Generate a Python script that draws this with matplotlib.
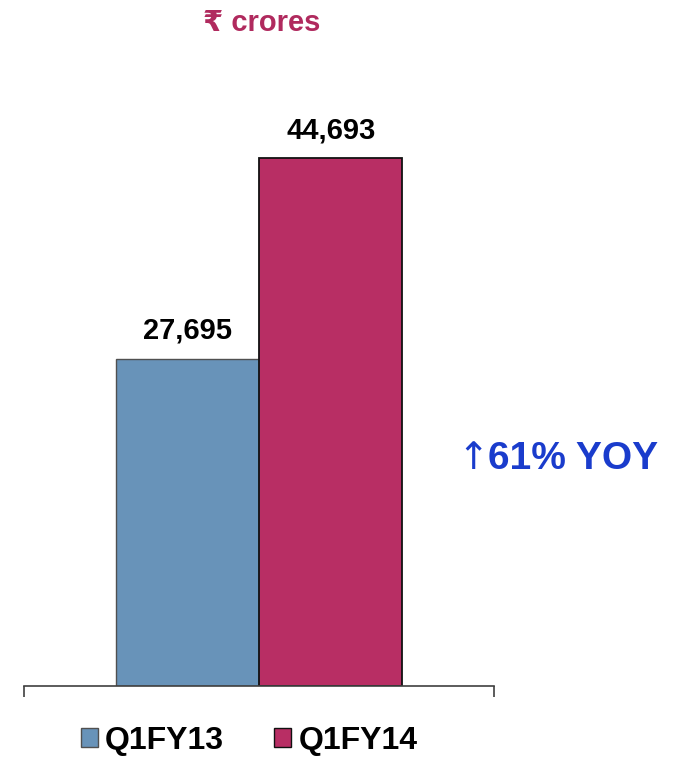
import matplotlib.pyplot as plt
from matplotlib.patches import Patch

# data
series = ["Q1FY13", "Q1FY14"]
values = [27695, 44693]
value_labels = ["27,695", "44,693"]
colors = ["#6893B9", "#B82E64"]
edges = ["#505050", "#111111"]

plt.rcParams["font.family"] = ["Liberation Sans", "DejaVu Sans"]

fig = plt.figure(figsize=(6.75, 7.57), dpi=100)
ax = fig.add_axes([24 / 675, 71 / 757, 470 / 675, 590.7 / 757])

width = 0.3053
offsets = [-width / 2, width / 2]
for i in range(len(series)):
    ax.bar(offsets[i], values[i], width=width, color=colors[i],
           edgecolor=edges[i], linewidth=1.3 if i == 1 else 1.0, zorder=2)
    ax.annotate(value_labels[i], (offsets[i], values[i]),
                xytext=(0, 10), textcoords="offset points",
                ha="center", va="bottom", fontsize=21, fontweight="bold",
                color="black")

ax.set_xlim(-0.5, 0.5)
ax.set_ylim(0, 50000)
for s in ["top", "right", "left"]:
    ax.spines[s].set_visible(False)
ax.spines["bottom"].set_color("#404040")
ax.spines["bottom"].set_linewidth(1.2)
ax.set_yticks([])
ax.set_xticks([-0.5, 0.5])
ax.set_xticklabels([])
ax.tick_params(axis="x", direction="out", length=8, width=1.2, color="#404040")

fig.text(0.388, 0.969, "\u20b9 crores", ha="center", va="center",
         fontsize=21, fontweight="bold", color="#B02A5E")

fig.text(457 / 675, 1 - 459 / 757, "\u2191", ha="left", va="center",
         fontsize=27, color="#1A3CCC", family="DejaVu Sans")
fig.text(488 / 675, 1 - 459 / 757, "61% YOY", ha="left", va="center",
         fontsize=28, fontweight="bold", color="#1A3CCC")

handles = [Patch(facecolor=colors[i], edgecolor=edges[i], linewidth=1.0)
           for i in range(len(series))]
fig.legend(handles, series, loc="center", bbox_to_anchor=(249 / 675, 16 / 757),
           ncol=2, frameon=False, prop={"size": 23, "weight": "bold"},
           handlelength=0.55, handleheight=0.55, handletextpad=0.22,
           columnspacing=1.55, borderpad=0)

fig.savefig("out.png", dpi=100)
